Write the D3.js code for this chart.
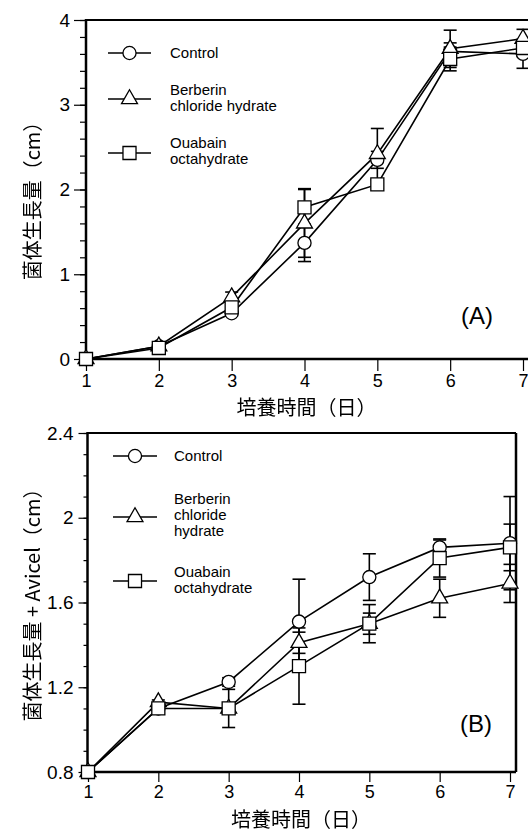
<!DOCTYPE html>
<html>
<head>
<meta charset="utf-8">
<script src="https://cdn.jsdelivr.net/npm/d3@7"></script>
<style>
  body { margin: 0; background: #fff; }
  text { font-family: "Liberation Sans", Arial, Helvetica, sans-serif; fill: #000; }
  .cjk { font-family: "Noto Sans CJK JP", "Noto Sans CJK SC", sans-serif; filter: grayscale(100%); }
</style>
</head>
<body>
<svg id="chart" width="528" height="833"></svg>
<script>
// days of culture
const days = [1, 2, 3, 4, 5, 6, 7]
const seriesNames = ["Control", "Berberin chloride hydrate", "Ouabain octahydrate"]
const symbolTypes = [d3.symbolCircle, d3.symbolTriangle, d3.symbolSquare]

// panel A: growth (cm)
const aControl = [0, 0.15, 0.54, 1.37, 2.35, 3.63, 3.6]
const aControlErr = [0, 0.02, 0.03, 0.22, 0.1, 0.1, 0.17]
const aBerberin = [0, 0.15, 0.73, 1.6, 2.42, 3.66, 3.78]
const aBerberinErr = [0, 0.02, 0.06, 0.4, 0.3, 0.22, 0.11]
const aOuabain = [0, 0.13, 0.61, 1.79, 2.06, 3.54, 3.67]
const aOuabainErr = [0, 0.02, 0.05, 0.22, 0.05, 0.14, 0.1]
const aTicks = [0, 1, 2, 3, 4]

// panel B: growth + Avicel (cm)
const bControl = [0.8, 1.1, 1.225, 1.51, 1.72, 1.86, 1.88]
const bControlErr = [0, 0.01, 0.02, 0.2, 0.11, 0.035, 0.22]
const bBerberin = [0.8, 1.13, 1.1, 1.41, 1.5, 1.62, 1.69]
const bBerberinErr = [0, 0.01, 0.02, 0.05, 0.05, 0.09, 0.09]
const bOuabain = [0.8, 1.1, 1.1, 1.3, 1.5, 1.81, 1.86]
const bOuabainErr = [0, 0.01, 0.09, 0.18, 0.09, 0.09, 0.11]
const bTicks = [0.8, 1.2, 1.6, 2, 2.4]

const svg = d3.select("#chart")

function drawPanel(opt) {
  const g = svg.append("g")
  const x = d3.scaleLinear().domain([1, 7]).range(opt.xRange)
  const y = d3.scaleLinear().domain(opt.yDomain).range(opt.yRange)
  const x0 = opt.axisX
  const [yBot, yTop] = opt.yRange

  // frame
  g.append("line").attr("x1", x0).attr("x2", opt.rightEdge).attr("y1", yTop).attr("y2", yTop)
    .attr("stroke", "#000").attr("stroke-width", 2)
  if (opt.rightBorder) {
    g.append("line").attr("x1", opt.rightEdge).attr("x2", opt.rightEdge).attr("y1", yTop).attr("y2", yBot)
      .attr("stroke", "#000").attr("stroke-width", 2.5)
  }

  // y axis
  const yAxis = d3.axisLeft(y).tickValues(opt.minorTicks).tickSize(opt.minorLen).tickFormat("")
  g.append("g").attr("transform", `translate(${x0},0)`).call(yAxis)
    .call(s => s.select(".domain").remove())
    .call(s => s.selectAll("line").attr("stroke-width", 1.2))
  const yAxisMajor = d3.axisLeft(y).tickValues(opt.ticks).tickSize(opt.majorLen).tickPadding(opt.tickPad)
    .tickFormat(d => d)
  g.append("g").attr("transform", `translate(${x0},0)`).call(yAxisMajor)
    .call(s => s.select(".domain").remove())
    .call(s => s.selectAll("line").attr("stroke-width", 1.2))
    .call(s => s.selectAll("text").attr("font-size", 19))
  g.append("line").attr("x1", x0).attr("x2", x0).attr("y1", yTop - 1).attr("y2", yBot)
    .attr("stroke", "#000").attr("stroke-width", 2.5)

  // x axis
  const xAxis = d3.axisBottom(x).tickValues(days).tickSize(opt.xTickLen).tickPadding(3).tickFormat(d => d)
  g.append("g").attr("transform", `translate(0,${yBot})`).call(xAxis)
    .call(s => s.select(".domain").remove())
    .call(s => s.selectAll("line").attr("stroke-width", 1.2))
    .call(s => s.selectAll("text").attr("font-size", 18))
  g.append("line").attr("x1", x0 - 1).attr("x2", opt.rightEdge).attr("y1", yBot).attr("y2", yBot)
    .attr("stroke", "#000").attr("stroke-width", 2.5)

  const line = d3.line().x((d, i) => x(days[i])).y(d => y(d))

  // lines
  opt.series.forEach(s => {
    g.append("path").datum(s.values).attr("d", line)
      .attr("fill", "none").attr("stroke", "#000").attr("stroke-width", 1.6)
  })

  // error bars
  opt.series.forEach(s => {
    s.values.forEach((v, i) => {
      const e = s.errs[i]
      if (!e) return
      const cx = x(days[i])
      g.append("line").attr("x1", cx).attr("x2", cx).attr("y1", y(v - e)).attr("y2", y(v + e))
        .attr("stroke", "#000").attr("stroke-width", 1.6)
      ;[v - e, v + e].forEach(w => {
        g.append("line").attr("x1", cx - 6.5).attr("x2", cx + 6.5).attr("y1", y(w)).attr("y2", y(w))
          .attr("stroke", "#000").attr("stroke-width", 1.6)
      })
    })
  })

  // markers
  opt.series.forEach((s, k) => {
    g.selectAll(null).data(s.values).enter().append("path")
      .attr("d", d3.symbol().type(symbolTypes[k]).size(opt.symSizes[k]))
      .attr("transform", (d, i) => `translate(${x(days[i])},${y(d)})`)
      .attr("fill", "#fff").attr("stroke", "#000").attr("stroke-width", 1.3)
  })

  // legend
  opt.legend.forEach((L, k) => {
    g.append("line").attr("x1", L.x1).attr("x2", L.x2).attr("y1", L.y).attr("y2", L.y)
      .attr("stroke", "#000").attr("stroke-width", 1.6)
    g.append("path").attr("d", d3.symbol().type(symbolTypes[k]).size(opt.symSizes[k]))
      .attr("transform", `translate(${(L.x1 + L.x2) / 2},${L.y})`)
      .attr("fill", "#fff").attr("stroke", "#000").attr("stroke-width", 1.3)
    const t = g.append("text").attr("x", L.tx).attr("font-size", opt.legendFont)
    L.lines.forEach((str, j) => {
      t.append("tspan").attr("x", L.tx).attr("y", L.ty + j * opt.legendLH).text(str)
    })
  })

  // panel tag
  g.append("text").attr("x", opt.tag.x).attr("y", opt.tag.y).attr("text-anchor", "middle")
    .attr("font-size", 24).text(opt.tag.text)

  // axis titles
  g.append("text").attr("class", "cjk").attr("x", (opt.xRange[0] + opt.xRange[1]) / 2 + 2).attr("y", opt.xTitleY)
    .attr("text-anchor", "middle").attr("font-size", 20).text("培養時間（日）")
  g.append("text").attr("class", "cjk")
    .attr("transform", `translate(${opt.yTitleX},${opt.yTitleY}) rotate(-90)`)
    .attr("text-anchor", "middle").attr("font-size", 20).text(opt.yTitle)
}

drawPanel({
  xRange: [86, 523], yDomain: [0, 4], yRange: [359, 20], axisX: 86, rightEdge: 528, rightBorder: false,
  ticks: aTicks, minorTicks: d3.range(0, 4.01, 0.2).map(d => +d.toFixed(1)),
  majorLen: 12, minorLen: 6, tickPad: 4, xTickLen: 12,
  symSizes: [135, 110, 170],
  series: [
    { values: aControl, errs: aControlErr },
    { values: aBerberin, errs: aBerberinErr },
    { values: aOuabain, errs: aOuabainErr }
  ],
  legendFont: 15, legendLH: 16,
  legend: [
    { x1: 108, x2: 151, y: 53, tx: 170, ty: 58, lines: ["Control"] },
    { x1: 108, x2: 151, y: 99, tx: 170, ty: 95, lines: ["Berberin", "chloride hydrate"] },
    { x1: 108, x2: 151, y: 153, tx: 170, ty: 148, lines: ["Ouabain", "octahydrate"] }
  ],
  tag: { x: 477, y: 324, text: "(A)" },
  xTitleY: 415, yTitleX: 40, yTitleY: 196, yTitle: "菌体生長量（cm）"
})

drawPanel({
  xRange: [88, 510], yDomain: [0.8, 2.4], yRange: [772, 433], axisX: 87.5, rightEdge: 516, rightBorder: true,
  ticks: bTicks, minorTicks: d3.range(0.8, 2.41, 0.1).map(d => +d.toFixed(1)),
  majorLen: 9, minorLen: 4, tickPad: 5, xTickLen: 10,
  symSizes: [135, 110, 170],
  series: [
    { values: bControl, errs: bControlErr },
    { values: bBerberin, errs: bBerberinErr },
    { values: bOuabain, errs: bOuabainErr }
  ],
  legendFont: 15, legendLH: 16,
  legend: [
    { x1: 113, x2: 157, y: 456, tx: 174, ty: 461, lines: ["Control"] },
    { x1: 113, x2: 157, y: 517, tx: 174, ty: 504, lines: ["Berberin", "chloride", "hydrate"] },
    { x1: 113, x2: 157, y: 581, tx: 174, ty: 577, lines: ["Ouabain", "octahydrate"] }
  ],
  tag: { x: 476, y: 732, text: "(B)" },
  xTitleY: 827, yTitleX: 40, yTitleY: 600, yTitle: "菌体生長量 + Avicel（cm）"
})
</script>
</body>
</html>
